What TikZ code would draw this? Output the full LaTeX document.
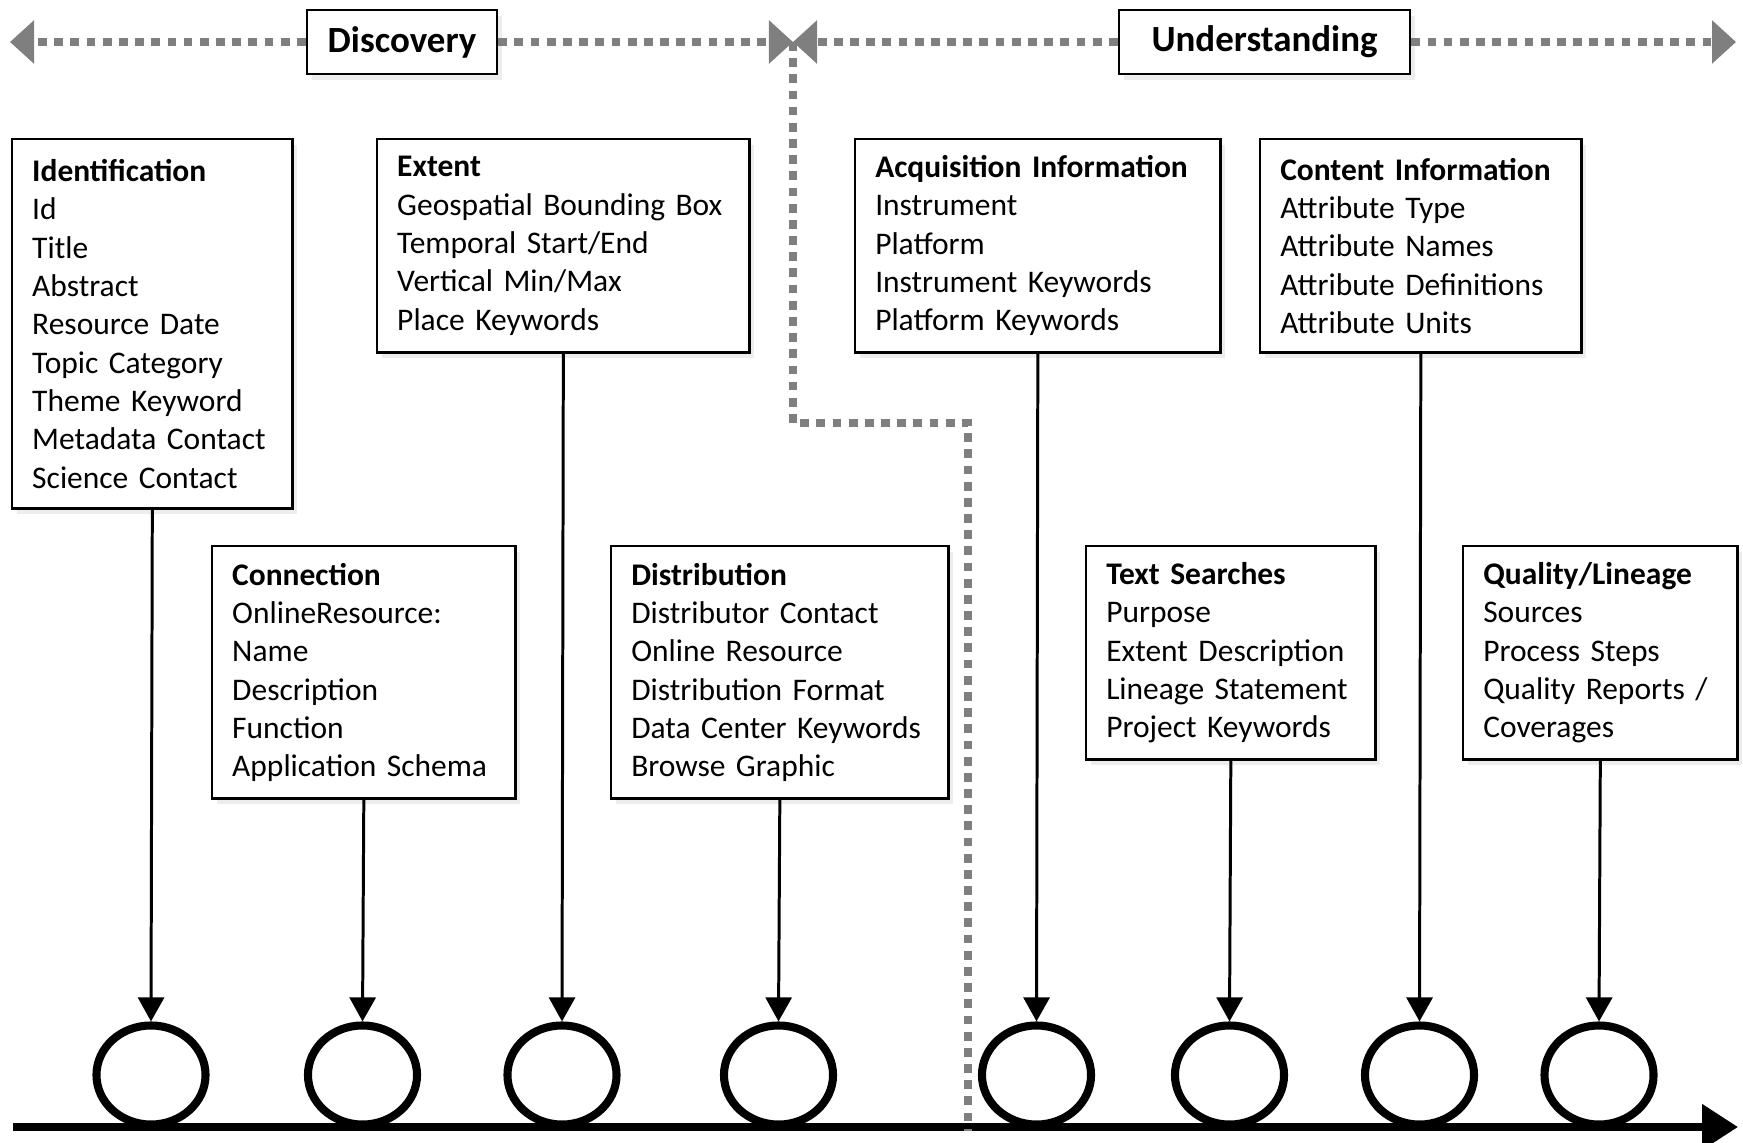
\documentclass[tikz,border=0pt]{standalone}
\usepackage{fontspec}
\setmainfont{Carlito}
\usetikzlibrary{arrows.meta,shapes.geometric,shadows}
\definecolor{dotgray}{HTML}{7F7F7F}
\begin{document}
\begin{tikzpicture}[x=0.01cm,y=-0.01cm,
  softshadow/.style={drop shadow={shadow xshift=0.05cm,shadow yshift=-0.06cm,fill=black,opacity=0.07}},
  infobox/.style={draw,line width=0.7pt,fill=white,anchor=north west,align=left,
    inner xsep=0.2cm,inner ysep=0.05cm,font=\fontsize{8.95pt}{10.9pt}\selectfont,softshadow},
  phasebox/.style={draw,line width=0.7pt,fill=white,inner sep=0pt,
    font=\fontsize{10.5pt}{12pt}\selectfont\bfseries,minimum height=0.64cm,softshadow},
  gdot/.style={draw=dotgray,line width=2.3pt,dash pattern=on 2.5pt off 2.1pt},
  gtip/.style={-{Triangle[length=0.24cm,width=0.42cm]}},
  milestone/.style={draw,ellipse,line width=2.3pt,fill=white,minimum width=1.09cm,minimum height=0.99cm,inner sep=0pt},
  feed/.style={draw,line width=0.85pt,-{Triangle[length=0.24cm,width=0.26cm]}},
  timeline/.style={draw,line width=2.3pt,-{Triangle[length=0.36cm,width=0.44cm]}}
]
\useasboundingbox (0,0) rectangle (1743,1143);

% phase markers along the top
\coordinate (ltip) at (10,42);
\coordinate (jn) at (793,42);
\coordinate (rtip) at (1736,42);
\coordinate (bendA) at (793,423);
\coordinate (bendB) at (968,423);
\coordinate (foot) at (968,1131);
\coordinate (axisL) at (13,1127);
\coordinate (axisR) at (1738,1127);

% time axis
\draw[timeline] (axisL) -- (axisR);

% phase divider
\draw[gdot] (jn) -- (bendA) -- (bendB) -- (foot);

\node[phasebox,minimum width=1.90cm] (disc) at (402,42) {\raisebox{-0.7pt}{Discovery}};
\node[phasebox,minimum width=2.91cm] (und) at (1264.5,42) {\raisebox{-0.7pt}{Understanding}};
\draw[gdot,gtip] (disc.west) -- (ltip);
\draw[gdot,gtip] (disc.east) -- (jn);
\draw[gdot,gtip] (und.west) -- (jn);
\draw[gdot,gtip] (und.east) -- (rtip);

% metadata groups
\node[infobox,text width=2.40cm,minimum height=3.69cm] (ident) at (11,138)
  {\textbf{Identification}\\Id\\Title\\Abstract\\Resource Date\\Topic Category\\Theme Keyword\\Metadata Contact\\Science Contact};
\node[infobox,text width=3.32cm,minimum height=2.13cm] (extent) at (376,138)
  {\textbf{Extent}\\Geospatial Bounding Box\\Temporal Start/End\\Vertical Min/Max\\Place Keywords};
\node[infobox,text width=3.25cm,minimum height=2.13cm] (acq) at (854,138)
  {\textbf{Acquisition Information}\\Instrument\\Platform\\Instrument Keywords\\Platform Keywords};
\node[infobox,text width=2.81cm,minimum height=2.13cm] (content) at (1259,138)
  {\textbf{Content Information}\\Attribute Type\\Attribute Names\\Attribute Definitions\\Attribute Units};
\node[infobox,text width=2.63cm,minimum height=2.52cm] (conn) at (211,545)
  {\textbf{Connection}\\OnlineResource:\\Name\\Description\\Function\\Application Schema};
\node[infobox,text width=2.97cm,minimum height=2.52cm] (distr) at (610,545)
  {\textbf{Distribution}\\Distributor Contact\\Online Resource\\Distribution Format\\Data Center Keywords\\Browse Graphic};
\node[infobox,text width=2.49cm,minimum height=2.13cm] (text) at (1085,545)
  {\textbf{Text Searches}\\Purpose\\Extent Description\\Lineage Statement\\Project Keywords};
\node[infobox,text width=2.34cm,minimum height=2.13cm] (qual) at (1462,545)
  {\textbf{Quality/Lineage}\\Sources\\Process Steps\\Quality Reports /\\Coverages};

% milestones on the axis
\node[milestone] (m1) at (151,1075) {};
\node[milestone] (m2) at (362.5,1075) {};
\node[milestone] (m3) at (562,1075) {};
\node[milestone] (m4) at (778.5,1075) {};
\node[milestone] (m5) at (1036.5,1075) {};
\node[milestone] (m6) at (1229.5,1075) {};
\node[milestone] (m7) at (1419.5,1075) {};
\node[milestone] (m8) at (1599,1075) {};

\draw[feed] (ident.south) -- (m1.north);
\draw[feed] (conn.south) -- (m2.north);
\draw[feed] (extent.south) -- (m3.north);
\draw[feed] (distr.south) -- (m4.north);
\draw[feed] (acq.south) -- (m5.north);
\draw[feed] (text.south) -- (m6.north);
\draw[feed] (content.south) -- (m7.north);
\draw[feed] (qual.south) -- (m8.north);
\end{tikzpicture}
\end{document}
